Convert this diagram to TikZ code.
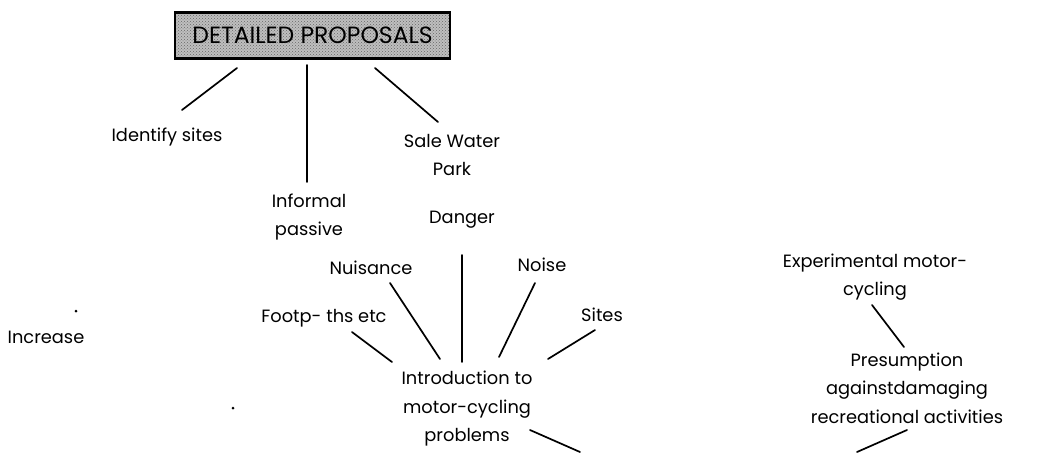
\documentclass[tikz,border=0pt]{standalone}
\usepackage{fontspec}
\setmainfont{Poppins}
\usetikzlibrary{patterns}
\begin{document}
\begin{tikzpicture}[x=1pt,y=-1pt,
  label/.style={align=center,inner sep=0pt,font=\fontsize{17.8}{28.5}\selectfont},
  titlebox/.style={draw,line width=2.4pt,minimum width=275pt,minimum height=46pt,
    inner sep=0pt,font=\fontsize{23.5}{26}\selectfont,
    preaction={fill=black!25},pattern=crosshatch dots,pattern color=black!60},
  link/.style={line width=1.7pt,line cap=round},
  speck/.style={circle,fill=black,inner sep=0pt,minimum size=3pt}]
  \useasboundingbox[fill=white] (0,0) rectangle (1040,452);

  % heading and its three branches
  \node[titlebox] (dp) at (312.5,35.5) {DETAILED PROPOSALS};
  \node[label] (ids) at (167,137) {Identify sites};
  \node[label] (inf) at (309,217) {Informal\\passive};
  \node[label] (swp) at (452,155) {Sale Water\\Park};

  % the motor-cycling problems cluster
  \node[label] (dan) at (462,220) {Danger};
  \node[label] (nui) at (371,268) {Nuisance};
  \node[label] (noi) at (542,265) {Noise};
  \node[label] (foot) at (324,318) {Footp- ths etc};
  \node[label] (sit) at (602,315) {Sites};
  \node[label] (intro) at (467,409) {Introduction to\\motor-cycling\\problems};

  % left-hand items
  \node[label] (inc) at (46,337) {Increase};
  \node[speck] (s1) at (76,311) {};
  \node[speck] (s2) at (233,408) {};

  % right-hand cluster
  \node[label] (exp) at (875,277) {Experimental motor-\\cycling};
  \node[label] (pres) at (907,388) {Presumption\\againstdamaging\\recreational activities};

  % lines leaving the lower edge
  \coordinate (outa) at (580,452);
  \coordinate (outb) at (857,452);

  \draw[link] ([shift={(-75.5,32.5)}]dp.center) -- ([shift={(15,-27)}]ids.center);
  \draw[link] ([shift={(-5.5,29.5)}]dp.center) -- ([shift={(-2,-35)}]inf.center);
  \draw[link] ([shift={(62.5,32.5)}]dp.center) -- ([shift={(-14,-33)}]swp.center);

  \draw[link] ([shift={(-5,-47)}]intro.center) -- ([shift={(0,35)}]dan.center);
  \draw[link] ([shift={(-27,-50)}]intro.center) -- ([shift={(19,15)}]nui.center);
  \draw[link] ([shift={(32,-52)}]intro.center) -- ([shift={(-7,18)}]noi.center);
  \draw[link] ([shift={(-75,-47)}]intro.center) -- ([shift={(28,14)}]foot.center);
  \draw[link] ([shift={(81,-50)}]intro.center) -- ([shift={(-7,15)}]sit.center);
  \draw[link] ([shift={(63,21)}]intro.center) -- (outa);

  \draw[link] ([shift={(-3,28)}]exp.center) -- ([shift={(-3,-41)}]pres.center);
  \draw[link] ([shift={(0,42)}]pres.center) -- (outb);
\end{tikzpicture}
\end{document}
